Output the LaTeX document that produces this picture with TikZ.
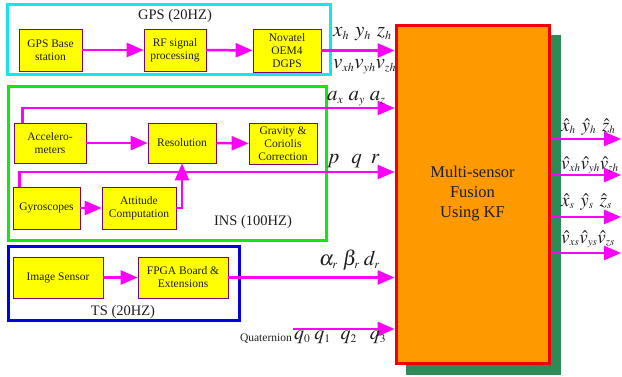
\documentclass[tikz,border=0pt]{standalone}
\usepackage{mathptmx}
\usepackage[no-math]{fontspec}
\setmainfont{Liberation Serif}
\usetikzlibrary{arrows.meta}

% small subscripts for the large signal names
\DeclareMathSizes{21}{21}{12}{9}
\DeclareMathSizes{20}{20}{11.5}{9}
\DeclareMathSizes{19}{19}{11}{8}

\definecolor{boxfill}{RGB}{255,255,0}
\definecolor{boxline}{RGB}{128,0,128}
\definecolor{flow}{RGB}{255,0,255}
\definecolor{gpsline}{RGB}{20,230,235}
\definecolor{insline}{RGB}{20,230,20}
\definecolor{tsline}{RGB}{0,0,225}
\definecolor{fusefill}{RGB}{255,153,0}
\definecolor{fuseline}{RGB}{240,0,0}
\definecolor{shadowfill}{RGB}{46,139,87}
\definecolor{ink}{RGB}{30,30,30}

\begin{document}
\begin{tikzpicture}[x=1pt,y=-1pt,
  unit/.style={draw=boxline, line width=0.8pt, fill=boxfill, text=ink, align=center,
    font=\fontsize{11.5}{13}\selectfont, inner sep=1pt},
  group/.style={line width=3pt, inner sep=0pt},
  flowarrow/.style={draw=flow, line width=2.5pt, -{Triangle[length=17pt,width=14pt]}},
  grouptitle/.style={font=\fontsize{14.5}{16}\selectfont, text=ink, inner sep=0pt},
  sig/.style={font=\fontsize{21}{23}\selectfont, text=ink, inner sep=0pt, anchor=base west},
  sigq/.style={font=\fontsize{20}{22}\selectfont, text=ink, inner sep=0pt, anchor=base west},
  sigout/.style={font=\fontsize{19}{21}\selectfont, text=ink, inner sep=0pt, anchor=base west}]

\useasboundingbox (0,0) rectangle (622,376);

% sensor groups
\node[group, draw=gpsline, minimum width=323pt, minimum height=70pt] (gps) at (168.5,39) {};
\node[group, draw=insline, minimum width=318pt, minimum height=154pt] (ins) at (167,163) {};
\node[group, draw=tsline, minimum width=231pt, minimum height=74pt] (ts) at (123.5,283) {};

\node[grouptitle] (gpstitle) at (175,16) {GPS (20HZ)};
\node[grouptitle] (institle) at (253,222) {INS (100HZ)};
\node[grouptitle] (tstitle) at (123,312) {TS (20HZ)};

% GPS chain
\node[unit, minimum width=63pt, minimum height=42pt] (gpsbase) at (50.5,50) {GPS Base\\station};
\node[unit, minimum width=62pt, minimum height=42pt] (rf) at (175,50) {RF signal\\processing};
\node[unit, minimum width=68pt, minimum height=43pt] (novatel) at (287,50.5) {Novatel\\OEM4\\DGPS};

% INS chain
\node[unit, minimum width=72pt, minimum height=40pt] (accel) at (50,143) {Accelero-\\meters};
\node[unit, minimum width=68pt, minimum height=40pt] (resol) at (182,143) {Resolution};
\node[unit, minimum width=68pt, minimum height=41pt] (gravity) at (283,143.5) {Gravity \&\\Coriolis\\Correction};
\node[unit, minimum width=67pt, minimum height=42pt] (gyro) at (46.5,208) {Gyroscopes};
\node[unit, minimum width=74pt, minimum height=42pt] (attitude) at (139,208) {Attitude\\Computation};

% TS chain
\node[unit, minimum width=90pt, minimum height=41pt] (image) at (58,277.5) {Image Sensor};
\node[unit, minimum width=90pt, minimum height=41pt] (fpga) at (183,277.5) {FPGA Board \&\\Extensions};

% fusion block with its drop shadow
\fill[shadowfill] (406,35) rectangle (561,375);
\node[draw=fuseline, fill=fusefill, line width=3pt, minimum width=153pt, minimum height=338pt,
  align=center, text=ink, font=\fontsize{16.5}{20}\selectfont] (fusion) at (472.5,194)
  {Multi-sensor\\Fusion\\Using KF};

% row heights of the fusion inputs and outputs
\coordinate (accrow) at (0,108);
\coordinate (gyrorow) at (0,172);
\coordinate (quat) at (293,329);
\coordinate (out1) at (621,139);
\coordinate (out2) at (621,175);
\coordinate (out3) at (621,217);
\coordinate (out4) at (621,253);

% connectors
\draw[flowarrow] (gpsbase) -- (rf);
\draw[flowarrow] (rf) -- (novatel);
\draw[flowarrow] (novatel.east) -- (fusion.west |- novatel.east);

\draw[flowarrow] (accel) -- (resol);
\draw[flowarrow] (resol) -- (gravity);
\draw[flowarrow] ([xshift=9pt]accel.north west) |- (fusion.west |- accrow);
\draw[flowarrow] (gyro) -- (attitude);
\draw[flowarrow] (attitude.east) -| (resol.south);
\draw[flowarrow] ([xshift=7pt]gyro.north west) |- (fusion.west |- gyrorow);

\draw[flowarrow] (image) -- (fpga);
\draw[flowarrow] (fpga.east) -- (fusion.west |- fpga.east);
\draw[flowarrow] (quat) -- (fusion.west |- quat);

\draw[flowarrow] (fusion.east |- out1) -- (out1);
\draw[flowarrow] (fusion.east |- out2) -- (out2);
\draw[flowarrow] (fusion.east |- out3) -- (out3);
\draw[flowarrow] (fusion.east |- out4) -- (out4);

% signal labels
\node[sig] (lxyz) at (333,36) {$x_h\hspace{6pt}y_h\hspace{6pt}z_h$};
\node[sig] (lvel) at (333,68) {$v_{xh}v_{yh}v_{zh}$};
\node[sig] (lacc) at (327,100) {$a_x\hspace{5pt}a_y\hspace{5pt}a_z$};
\node[sig] (lpqr) at (327,163) {$p\hspace{12pt}q\hspace{9pt}r$};
\node[sig] (lang) at (319,265) {$\alpha_r\hspace{5pt}\beta_r\hspace{4pt}d_r$};
\node[sigq] (lq) at (294,339) {$q_0\hspace{4pt}q_1\hspace{10pt}q_2\hspace{13pt}q_3$};
\node[font=\fontsize{11.5}{13}\selectfont, text=ink, inner sep=0pt, anchor=base east] (lquat) at (292,341) {Quaternion};

\node[sigout] (o1) at (561,131) {$\hat x_h\hspace{6pt}\hat y_h\hspace{6pt}\hat z_h$};
\node[sigout] (o2) at (561,169) {$\hat v_{xh}\hat v_{yh}\hat v_{zh}$};
\node[sigout] (o3) at (561,206) {$\hat x_s\hspace{6pt}\hat y_s\hspace{6pt}\hat z_s$};
\node[sigout] (o4) at (561,243) {$\hat v_{xs}\hat v_{ys}\hat v_{zs}$};
\end{tikzpicture}
\end{document}
